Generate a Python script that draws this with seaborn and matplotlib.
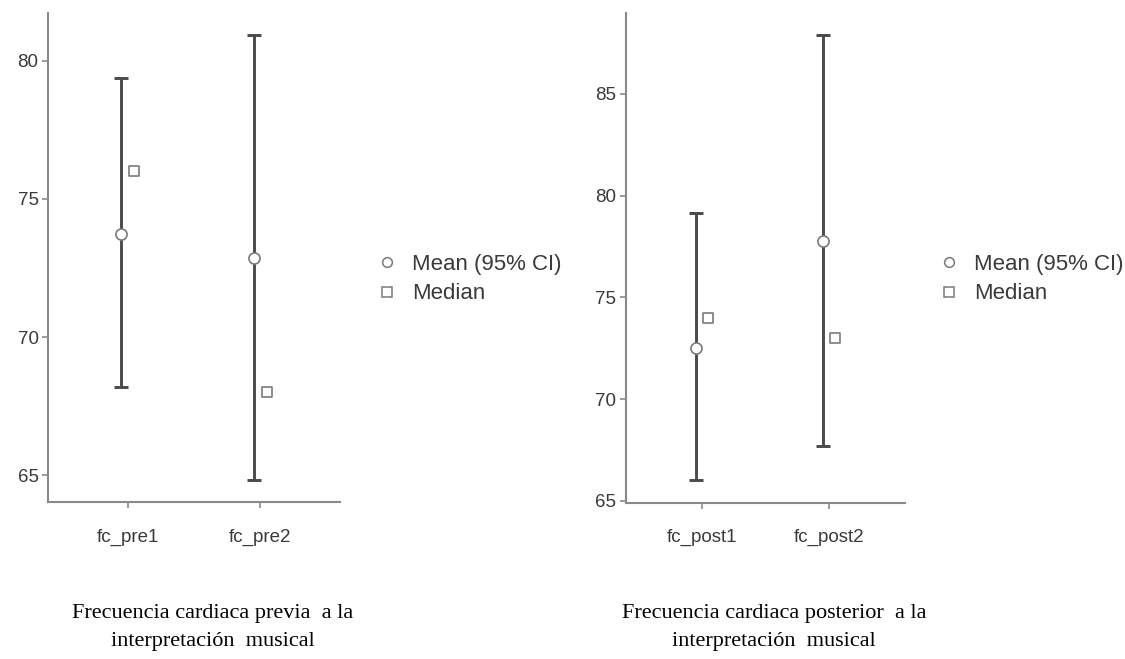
import numpy as np
import pandas as pd
import matplotlib
matplotlib.use("Agg")
import matplotlib.pyplot as plt
from matplotlib.lines import Line2D
import seaborn as sns

# ---- data ----
categories_pre = ["fc_pre1", "fc_pre2"]
mean_pre = [73.74, 72.86]
ci_low_pre = [68.19, 64.84]
ci_high_pre = [79.37, 80.92]
median_pre = [76.0, 68.0]

categories_post = ["fc_post1", "fc_post2"]
mean_post = [72.51, 77.76]
ci_low_post = [66.0, 67.70]
ci_high_post = [79.12, 87.89]
median_post = [74.0, 73.0]

yticks_pre = [65, 70, 75, 80]
yticks_post = [65, 70, 75, 80, 85]

legend_labels = ["Mean (95% CI)", "Median"]
captions = ["Frecuencia cardiaca previa  a la\ninterpretación  musical",
            "Frecuencia cardiaca posterior  a la\ninterpretación  musical"]

sns.set_theme(style="ticks")
plt.rcParams["font.family"] = ["Liberation Sans", "DejaVu Sans"]

SPINE = "#8a8a8a"
BAR = "#4a4a4a"
EDGE = "#7a7a7a"
TXT = "#3a3a3a"

fig = plt.figure(figsize=(11.25, 6.59), dpi=100)
ax1 = fig.add_axes([48.3 / 1125, 1 - 502 / 659, 291.7 / 1125, 489 / 659])
ax2 = fig.add_axes([626 / 1125, 1 - 502.7 / 659, 279 / 1125, 490 / 659])

def panel(ax, cats, means, lo, hi, meds, yticks):
    idx = np.arange(len(cats))
    dodge = 0.05
    df_mean = pd.DataFrame({"x": idx - dodge, "y": means})
    df_med = pd.DataFrame({"x": idx + dodge, "y": meds})
    yerr = np.vstack([np.array(means) - np.array(lo), np.array(hi) - np.array(means)])
    ax.errorbar(df_mean["x"], df_mean["y"], yerr=yerr, fmt="none", ecolor=BAR,
                elinewidth=2.1, capsize=4.7, capthick=2.1, zorder=2)
    sns.scatterplot(data=df_mean, x="x", y="y", ax=ax, marker="o", s=64,
                    facecolor="white", edgecolor=EDGE, linewidth=1.2, zorder=3)
    sns.scatterplot(data=df_med, x="x", y="y", ax=ax, marker="s", s=48,
                    facecolor="white", edgecolor=EDGE, linewidth=1.2, zorder=3)
    allv = np.concatenate([lo, hi, meds, means])
    rng = allv.max() - allv.min()
    ax.set_ylim(allv.min() - 0.05 * rng, allv.max() + 0.05 * rng)
    ax.set_xlim(-0.6, len(cats) - 1 + 0.6)
    ax.set_xticks(idx)
    ax.set_xticklabels(cats)
    ax.set_yticks(yticks)
    ax.set_xlabel("")
    ax.set_ylabel("")
    for s in ["top", "right"]:
        ax.spines[s].set_visible(False)
    for s in ["left", "bottom"]:
        ax.spines[s].set_color(SPINE)
        ax.spines[s].set_linewidth(1.5)
    ax.tick_params(axis="both", colors=SPINE, length=4, width=1.2,
                   labelcolor=TXT, labelsize=13.5, pad=3)
    ax.tick_params(axis="x", pad=15)
    handles = [Line2D([], [], linestyle="none", marker="o", markersize=7,
                      markerfacecolor="white", markeredgecolor=EDGE, markeredgewidth=1.1),
               Line2D([], [], linestyle="none", marker="s", markersize=6.5,
                      markerfacecolor="white", markeredgecolor=EDGE, markeredgewidth=1.1)]
    return handles

h = panel(ax1, categories_pre, mean_pre, ci_low_pre, ci_high_pre, median_pre, yticks_pre)
panel(ax2, categories_post, mean_post, ci_low_post, ci_high_post, median_post, yticks_post)

for xa in [376, 938]:
    fig.legend(h, legend_labels, loc="center left",
               bbox_to_anchor=(xa / 1125, 1 - 279 / 659), frameon=False,
               fontsize=16, handlelength=1.0, handletextpad=0.62,
               labelspacing=0.4, borderpad=0, borderaxespad=0, labelcolor=TXT)

for cx, cap in zip([213 / 1125, 774 / 1125], captions):
    fig.text(cx, 1 - 627.5 / 659, cap, ha="center", va="center", fontsize=16,
             family=["Liberation Serif", "DejaVu Serif"], color="black",
             linespacing=1.6)

fig.savefig("out.png", dpi=100)
